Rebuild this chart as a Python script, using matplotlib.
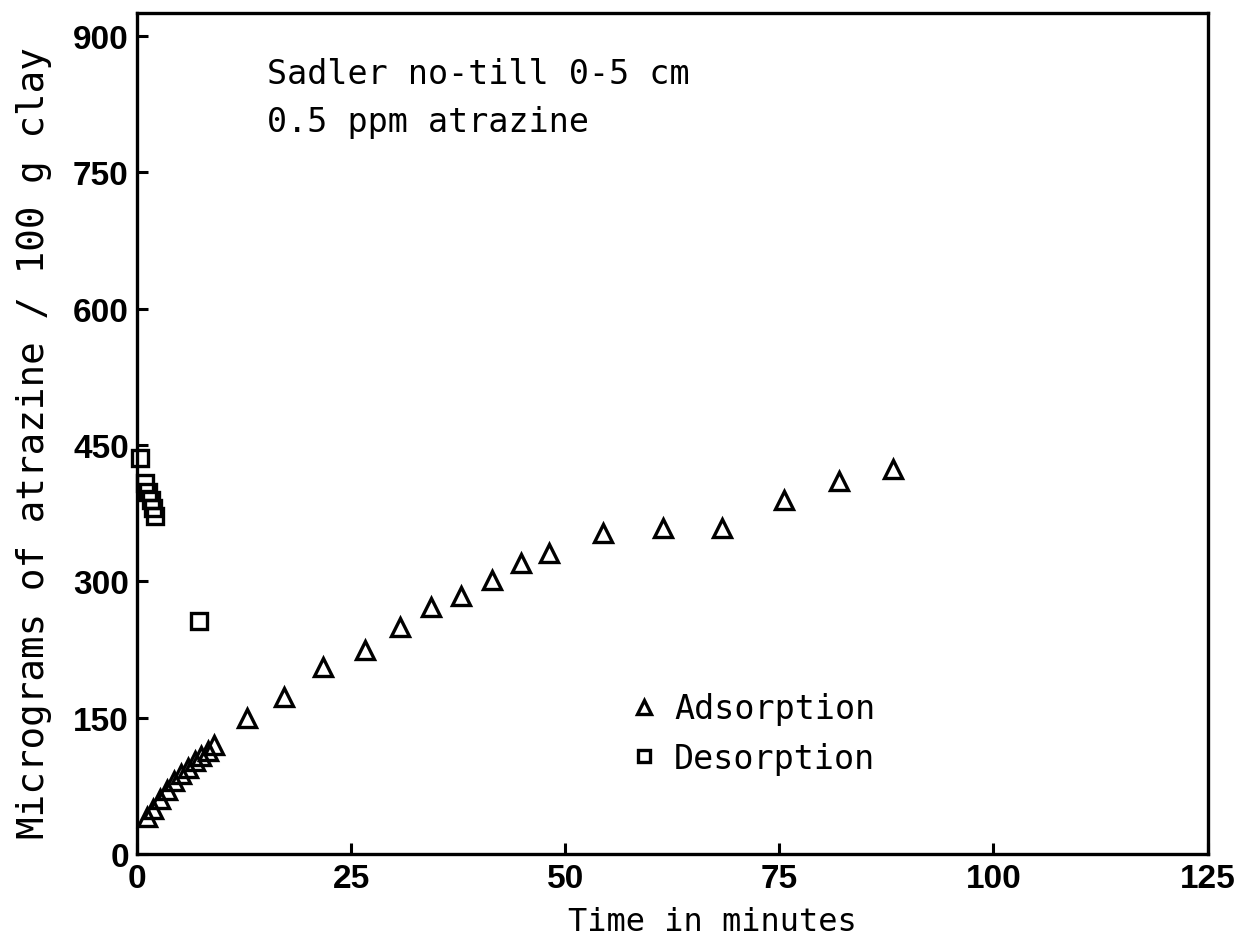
import matplotlib
matplotlib.use('Agg')
import matplotlib.pyplot as plt

# adsorption (minutes, ug atrazine / 100 g clay)
ads_t = [1.2, 1.9, 2.7, 3.5, 4.3, 5.1, 5.9, 6.7, 7.5, 8.3, 9.0,
         12.8, 17.2, 21.7, 26.6, 30.7, 34.3, 37.8, 41.4, 44.8, 48.1,
         54.4, 61.4, 68.3, 75.5, 81.9, 88.3]
ads_v = [41, 50, 61, 71, 80, 88, 95, 102, 108, 114, 120,
         150, 173, 206, 225, 250, 272, 284, 302, 320, 331,
         353, 359, 359, 390, 410, 424]

# desorption
des_t = [0.3, 0.9, 1.3, 1.6, 1.9, 2.1, 7.2]
des_v = [436, 408, 398, 390, 381, 372, 256]

xticks = [0, 25, 50, 75, 100, 125]
yticks = [0, 150, 300, 450, 600, 750, 900]

mono = 'DejaVu Sans Mono'
tickfont = ['Liberation Sans', 'DejaVu Sans']

fig = plt.figure(figsize=(12.36, 9.45), dpi=100)
ax = fig.add_axes([0.111, 0.095, 0.866, 0.89])

ax.plot(ads_t, ads_v, linestyle='none', marker='^', ms=13, mfc='none',
        mec='black', mew=2.4, clip_on=False, label='Adsorption')
ax.plot(des_t, des_v, linestyle='none', marker='s', ms=11, mfc='none',
        mec='black', mew=2.4, clip_on=False, label='Desorption')

ax.set_xlim(0, 125)
ax.set_ylim(0, 925)
ax.set_xticks(xticks)
ax.set_yticks(yticks)
ax.tick_params(direction='in', length=8, width=2.2, top=False, right=False,
               pad=6)
for lab in ax.get_xticklabels() + ax.get_yticklabels():
    lab.set_family(tickfont)
    lab.set_fontsize(24)
    lab.set_fontweight('bold')
for s in ax.spines.values():
    s.set_linewidth(2.4)

ax.set_xlabel('Time in minutes', family=mono, fontsize=23)
ax.xaxis.set_label_coords(0.537, -0.062)
ax.set_ylabel('Micrograms of atrazine / 100 g clay', family=mono,
              fontsize=27)
ax.yaxis.set_label_coords(-0.080, 0.49)

ax.text(0.121, 0.948, 'Sadler no-till 0-5 cm', transform=ax.transAxes,
        family=mono, fontsize=24, va='top')
ax.text(0.121, 0.891, '0.5 ppm atrazine', transform=ax.transAxes,
        family=mono, fontsize=24, va='top')

leg = ax.legend(loc='upper left', bbox_to_anchor=(0.43, 0.228), frameon=False,
                prop={'family': mono, 'size': 24}, markerscale=0.75,
                handlelength=1.0, handletextpad=0.4, labelspacing=0.5)

plt.savefig('out.png', dpi=100)
